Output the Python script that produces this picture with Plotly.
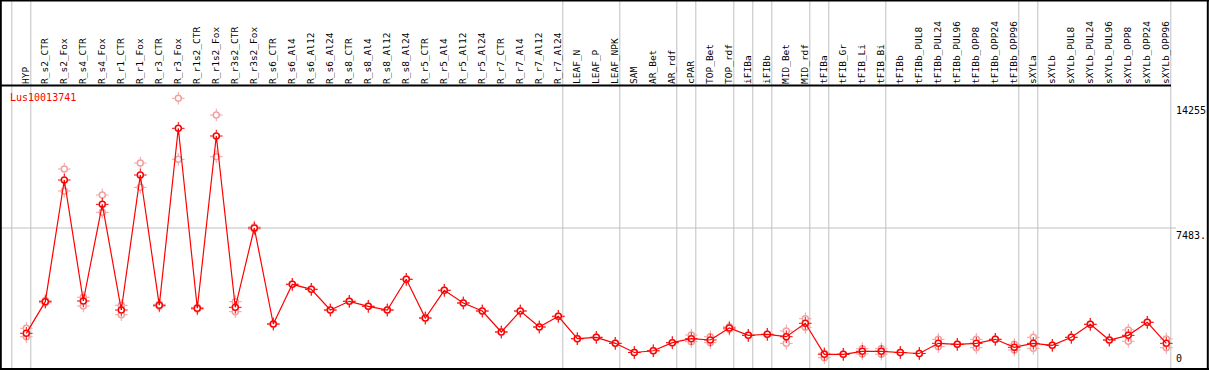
import plotly.graph_objects as go

# ---------------- data ----------------
categories = [
    "HYP", "R_s2_CTR", "R_s2_Fox", "R_s4_CTR", "R_s4_Fox", "R_r1_CTR", "R_r1_Fox",
    "R_r3_CTR", "R_r3_Fox", "R_r1s2_CTR", "R_r1s2_Fox", "R_r3s2_CTR", "R_r3s2_Fox",
    "R_s6_CTR", "R_s6_Al4", "R_s6_Al12", "R_s6_Al24", "R_s8_CTR", "R_s8_Al4",
    "R_s8_Al12", "R_s8_Al24", "R_r5_CTR", "R_r5_Al4", "R_r5_Al12", "R_r5_Al24",
    "R_r7_CTR", "R_r7_Al4", "R_r7_Al12", "R_r7_Al24", "LEAF_N", "LEAF_P", "LEAF_NPK",
    "SAM", "AR_Bet", "AR_rdf", "cPAR", "TOP_Bet", "TOP_rdf", "iFIBa", "iFIBb",
    "MID_Bet", "MID_rdf", "tFIBa", "tFIB_Gr", "tFIB_Li", "tFIB_Bi", "tFIBb",
    "tFIBb_PUL8", "tFIBb_PUL24", "tFIBb_PUL96", "tFIBb_OPP8", "tFIBb_OPP24",
    "tFIBb_OPP96", "sXYLa", "sXYLb", "sXYLb_PUL8", "sXYLb_PUL24", "sXYLb_PUL96",
    "sXYLb_OPP8", "sXYLb_OPP24", "sXYLb_OPP96",
]

mean_vals = [
    1777, 3492, 10083, 3528, 8765, 3040, 10354,
    3295, 12884, 3133, 12467, 3187, 7483,
    2282, 4432, 4160, 3040, 3512, 3241,
    3040, 4704, 2607, 4106, 3420, 2986,
    1849, 2986, 2119, 2699, 1485, 1560, 1235,
    739, 831, 1271, 1485, 1415, 2065, 1668, 1723,
    1594, 2320, 640, 640, 803, 803, 739,
    685, 1235, 1181, 1235, 1452,
    1018, 1235, 1127, 1560, 2265, 1415,
    1668, 2374, 1235,
]

rep_high = [
    2049, 3560, 10679, 3729, 9271, 3295, 11005,
    3350, 14510, 3180, 13605, 3492, 7540,
    2282, 4432, 4160, 3040, 3512, 3241,
    3040, 4704, 2607, 4106, 3420, 2986,
    1849, 2986, 2119, 2699, 1485, 1560, 1235,
    739, 831, 1271, 1686, 1594, 2130, 1668, 1723,
    1903, 2569, 700, 640, 944, 944, 739,
    685, 1452, 1181, 1452, 1452,
    1181, 1560, 1127, 1560, 2265, 1415,
    1957, 2374, 1470,
]

rep_low = [
    1594, 3430, 9488, 3257, 8333, 2786, 9688,
    3240, 11205, 3090, 11346, 2949, 7430,
    2282, 4432, 4160, 3040, 3512, 3241,
    3040, 4704, 2607, 4106, 3420, 2986,
    1849, 2986, 2119, 2699, 1485, 1560, 1235,
    739, 831, 1271, 1325, 1271, 2000, 1668, 1723,
    1235, 2102, 457, 640, 657, 640, 739,
    685, 1054, 1181, 1000, 1452,
    874, 965, 1127, 1560, 2265, 1415,
    1344, 2374, 998,
]

group_ends = ["HYP", "R_r7_Al24", "LEAF_NPK", "AR_rdf", "cPAR", "TOP_rdf", "iFIBa",
              "iFIBb", "MID_rdf", "tFIBa", "tFIB_Bi", "tFIBb_OPP96", "sXYLa", "sXYLb_OPP96"]

scale_labels = ["14255", "7483.", "0"]
scale_values = [14255, 7483, 0]
gene = "Lus10013741"

# ---------------- geometry ----------------
W, H = 1209, 370
TOP = 85                      # header height (px)
X0_PX, STEP_PX = 26.3, 19.0   # first category centre, spacing
Y_REF_PX, Y_REF_V, PX_PER_V = 228.0, 7483.0, 0.018458
PLOT_H = H - TOP

n = len(categories)
idx = list(range(n))
x_range = [-X0_PX / STEP_PX, (W - X0_PX) / STEP_PX]
y_range = [Y_REF_V - (H - Y_REF_PX) / PX_PER_V, Y_REF_V + (Y_REF_PX - TOP) / PX_PER_V]


def py(px):  # pixel row -> paper y
    return (H - px) / PLOT_H


def pxx(px):  # pixel column -> paper x
    return px / W


RED = "#ff0000"
PINK = "#f0a0a0"
FONT = "DejaVu Sans Mono"

fig = go.Figure()

rx = idx + idx
ry = rep_high + rep_low
# replicate markers
fig.add_trace(go.Scatter(x=rx, y=ry, mode="markers", hoverinfo="skip",
                         marker=dict(symbol="cross-thin", size=9, line=dict(color=PINK, width=1))))
fig.add_trace(go.Scatter(x=rx, y=ry, mode="markers", hoverinfo="skip",
                         marker=dict(symbol="circle", size=7, color="white", line=dict(width=0))))
fig.add_trace(go.Scatter(x=rx, y=ry, mode="markers", hoverinfo="skip",
                         marker=dict(symbol="circle-open", size=6, color=PINK, line=dict(color=PINK, width=1.5))))
# mean markers
fig.add_trace(go.Scatter(x=idx, y=mean_vals, mode="markers", hoverinfo="skip",
                         marker=dict(symbol="cross-thin", size=9, line=dict(color=RED, width=1))))
fig.add_trace(go.Scatter(x=idx, y=mean_vals, mode="markers", hoverinfo="skip",
                         marker=dict(symbol="circle", size=7, color="white", line=dict(width=0))))
fig.add_trace(go.Scatter(x=idx, y=mean_vals, mode="lines", line=dict(color=RED, width=1.2),
                         hoverinfo="skip"))
fig.add_trace(go.Scatter(x=idx, y=mean_vals, mode="markers", name=gene,
                         marker=dict(symbol="circle-open", size=6, color=RED, line=dict(color=RED, width=1.5))))

shapes = []
# group separators
sep_idx = [-1] + [categories.index(g) for g in group_ends]
for s in sep_idx:
    xs = s + 4.5 / STEP_PX
    shapes.append(dict(type="line", xref="x", yref="paper", x0=xs, x1=xs, y0=0, y1=py(0),
                       line=dict(color="#c0c0c0", width=1), layer="below"))
# reference line
shapes.append(dict(type="line", xref="paper", yref="y", x0=0, x1=pxx(1176), y0=Y_REF_V, y1=Y_REF_V,
                   line=dict(color="#c0c0c0", width=1.2), layer="below"))
# black frame
blk = dict(color="black", width=2)
shapes += [
    dict(type="line", xref="paper", yref="paper", x0=0, x1=1, y0=py(0.6), y1=py(0.6), line=blk),
    dict(type="line", xref="paper", yref="paper", x0=0, x1=pxx(1171), y0=py(85.5), y1=py(85.5), line=blk),
    dict(type="line", xref="paper", yref="paper", x0=0, x1=1, y0=py(369), y1=py(369), line=blk),
    dict(type="line", xref="paper", yref="paper", x0=pxx(0.8), x1=pxx(0.8), y0=py(0), y1=py(370), line=blk),
    dict(type="line", xref="paper", yref="paper", x0=pxx(1207.8), x1=pxx(1207.8), y0=py(0), y1=py(370), line=blk),
]

annotations = [dict(text=gene, xref="paper", yref="paper", x=pxx(8), y=py(90), xanchor="left",
                    yanchor="top", showarrow=False, font=dict(family=FONT, size=10, color=RED))]
for lab, v in zip(scale_labels, scale_values):
    annotations.append(dict(text=lab, xref="paper", yref="y", x=pxx(1174), y=v, xanchor="left",
                            yanchor="bottom" if v == 0 else "top", showarrow=False,
                            font=dict(family=FONT, size=10, color="black")))

fig.update_layout(
    width=W, height=H, margin=dict(l=0, r=0, t=TOP, b=0),
    paper_bgcolor="white", plot_bgcolor="white", showlegend=False,
    shapes=shapes, annotations=annotations,
    xaxis=dict(range=x_range, tickmode="array", tickvals=idx, ticktext=categories, side="top",
               tickangle=-90, ticks="", showgrid=False, zeroline=False, showline=False,
               tickfont=dict(family=FONT, size=9.5, color="black"), fixedrange=True),
    yaxis=dict(range=y_range, showgrid=False, zeroline=False, showticklabels=False, ticks="",
               fixedrange=True),
)

fig.write_html(
    "out.html",
    config={"displayModeBar": False},
    post_script="document.body.style.margin='0';document.body.style.overflow='hidden';",
)
